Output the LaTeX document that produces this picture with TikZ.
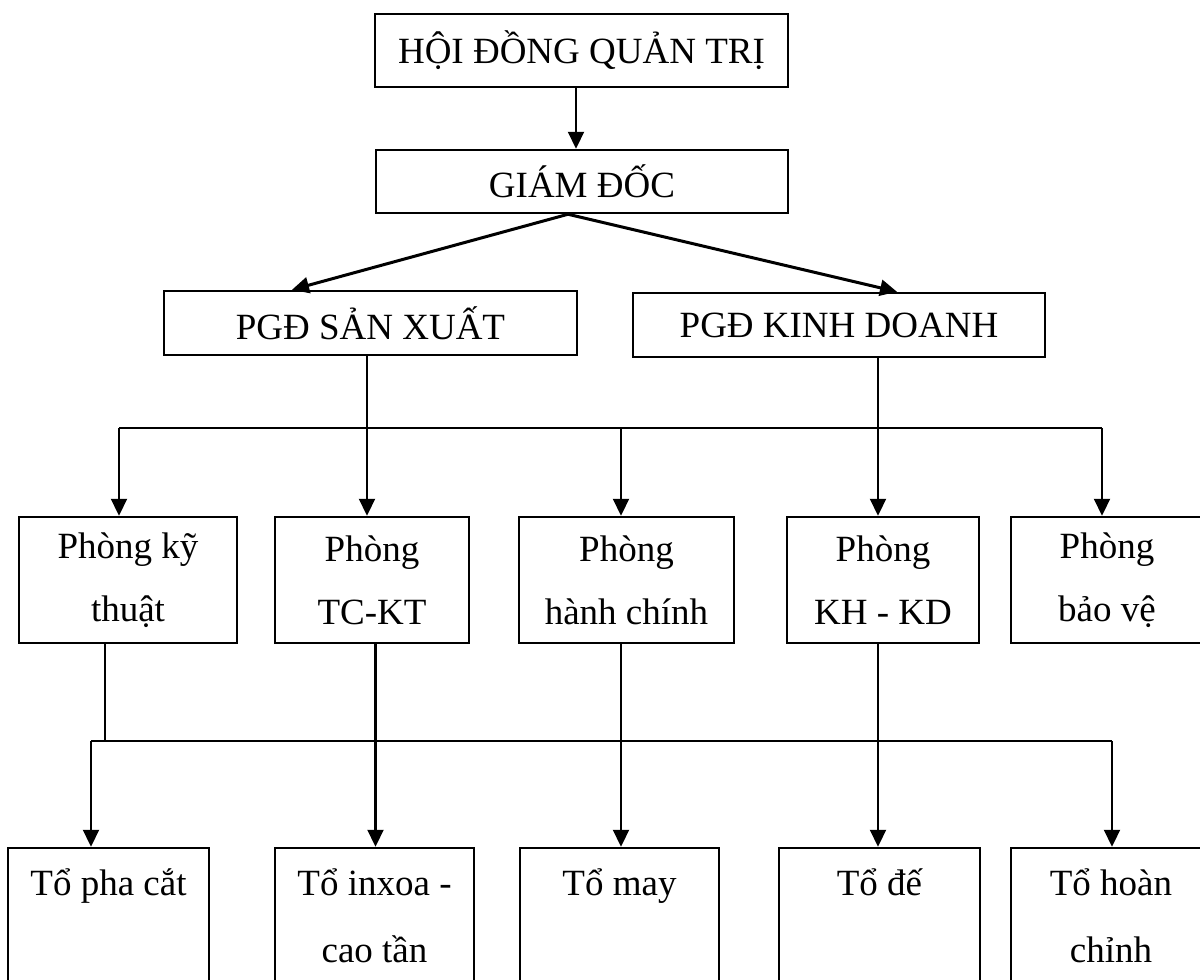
\documentclass[tikz,border=0pt]{standalone}
\usepackage{fontspec}
\setmainfont{Liberation Serif}
\usetikzlibrary{calc}
\usetikzlibrary{arrows.meta}

\begin{document}
\begin{tikzpicture}[x=0.5pt, y=-0.5pt,
    box/.style={rectangle, draw=black, line width=1.25pt, inner sep=0pt, align=center,
                font=\fontsize{18.5}{31.5}\selectfont},
    unit/.style={box, minimum height=68pt, font=\fontsize{18.5}{33.5}\selectfont},
    arr/.style={-{Triangle[length=8.5pt, width=8pt]}, line width=1.1pt},
    bus/.style={line width=1.1pt}]
    \useasboundingbox (0,0) rectangle (1200,980);

    % top levels
    \node[box, minimum width=206.5pt, minimum height=36.5pt] (hdqt) at (581.5,50.5) {HỘI ĐỒNG QUẢN TRỊ};
    \node[box, minimum width=206pt, minimum height=31.5pt] (gd) at (582,181.5) {GIÁM ĐỐC};
    \node[box, minimum width=206.5pt, minimum height=32pt] (pgdsx) at (370.5,323) {PGĐ SẢN XUẤT};
    \node[box, minimum width=206pt, minimum height=32pt] (pgdkd) at (839,325) {PGĐ KINH DOANH};

    % phong ban
    \node[box, minimum width=109pt, minimum height=63pt] (pkt) at (128,580) {Phòng kỹ\\thuật};
    \node[box, minimum width=97pt, minimum height=63pt] (ptc) at (372,580) {Phòng\\TC-KT};
    \node[box, minimum width=107.5pt, minimum height=63pt] (phc) at (626.5,580) {Phòng\\hành chính};
    \node[box, minimum width=96pt, minimum height=63pt] (pkh) at (883,580) {Phòng\\KH - KD};
    \node[box, minimum width=96pt, minimum height=63pt] (pbv) at (1107,580) {Phòng\\bảo vệ};

    % to san xuat
    \node[unit, minimum width=100.5pt] (t1) at (108.5,916) {Tổ pha cắt\\\mbox{}};
    \node[unit, minimum width=99.5pt] (t2) at (374.5,916) {Tổ inxoa -\\cao tần};
    \node[unit, minimum width=99.5pt] (t3) at (619.5,916) {Tổ may\\\mbox{}};
    \node[unit, minimum width=100.5pt] (t4) at (879.5,916) {Tổ đế\\\mbox{}};
    \node[unit, minimum width=100pt] (t5) at (1111,916) {Tổ hoàn\\chỉnh};

    \coordinate (b1l) at (119,428);
    \coordinate (b1r) at (1102,428);
    \coordinate (b2l) at (91,741);
    \coordinate (b2r) at (1112,741);

    \draw[arr] ($(hdqt.south)+(-5.5,0)$) -- ($(gd.north)+(-6,0)$);
    \draw[arr, line width=1.5pt] ($(gd.south)+(-14,0)$) -- ($(pgdsx.north)+(-78.5,0)$);
    \draw[arr, line width=1.5pt] ($(gd.south)+(-14,0)$) -- ($(pgdkd.north)+(58,0)$);

    % first bus
    \draw[bus] (b1l) -- (b1r);
    \draw[arr] (b1l) -- (b1l |- pkt.north);
    \draw[arr] ($(pgdsx.south)+(-3.5,0)$) -- ($(ptc.north)+(-5,0)$);
    \draw[arr] ($(phc.north |- b1l)+(-5.5,0)$) -- ($(phc.north)+(-5.5,0)$);
    \draw[arr] ($(pgdkd.south)+(39,0)$) -- ($(pkh.north)+(-5,0)$);
    \draw[arr] (b1r) -- (b1r |- pbv.north);

    % second bus
    \draw[bus] (b2l) -- (b2r);
    \draw[bus] ($(pkt.south)+(-23,0)$) -- ($(pkt.south |- b2l)+(-23,0)$);
    \draw[arr] (b2l) -- (b2l |- t1.north);
    \draw[arr] ($(ptc.south)+(3.5,0)$) -- ($(t2.north)+(1,0)$);
    \draw[arr] ($(phc.south)+(-5.5,0)$) -- ($(t3.north)+(1.5,0)$);
    \draw[arr] ($(pkh.south)+(-5,0)$) -- ($(t4.north)+(-1.5,0)$);
    \draw[arr] (b2r) -- (b2r |- t5.north);
\end{tikzpicture}
\end{document}
